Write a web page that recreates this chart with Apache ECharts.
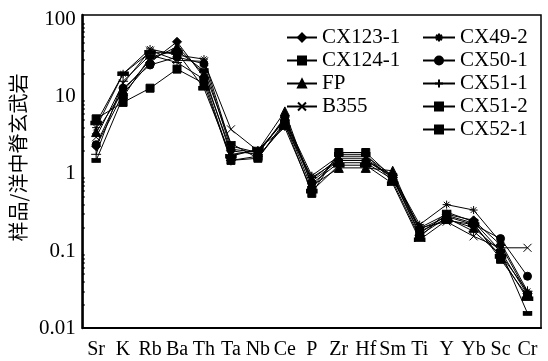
<!DOCTYPE html>
<html>
<head>
<meta charset="utf-8">
<script src="https://cdn.jsdelivr.net/npm/echarts@6/dist/echarts.min.js"></script>
<style>
  html, body { margin: 0; padding: 0; background: #fff; }
  #chart { width: 548px; height: 361px; }
</style>
</head>
<body>
<div id="chart"></div>
<script>
// Elements on the x axis (MORB-normalised spider diagram)
const elements = ['Sr', 'K', 'Rb', 'Ba', 'Th', 'Ta', 'Nb', 'Ce', 'P', 'Zr', 'Hf', 'Sm', 'Ti', 'Y', 'Yb', 'Sc', 'Cr'];

// Sample / MORB ratios
const cx123_1 = [2.3, 11, 28, 52, 18, 2.0, 1.8, 5.5, 0.80, 1.5, 1.5, 0.95, 0.20, 0.30, 0.25, 0.12, 0.028];
const cx124_1 = [5.2, 8.5, 13, 23, 15, 1.5, 1.6, 4.5, 0.56, 1.9, 1.9, 0.90, 0.17, 0.29, 0.23, 0.078, 0.026];
const fp      = [3.5, 12, 30, 45, 20, 1.8, 2.0, 6.5, 0.70, 1.2, 1.2, 1.10, 0.18, 0.26, 0.20, 0.10, 0.027];
const b355    = [3.0, 15, 40, 30, 29, 3.8, 2.0, 5.0, 0.85, 1.6, 1.6, 0.90, 0.20, 0.24, 0.155, 0.11, 0.11];
const cx49_2  = [4.0, 20, 42, 35, 31, 2.3, 1.9, 5.2, 0.95, 1.7, 1.7, 0.95, 0.22, 0.40, 0.34, 0.13, 0.030];
const cx50_1  = [2.4, 13, 26, 33, 27, 2.1, 1.9, 5.0, 0.75, 1.4, 1.4, 0.85, 0.19, 0.28, 0.22, 0.145, 0.047];
const cx51_1  = [1.8, 16, 35, 28, 17, 1.5, 1.7, 4.2, 0.90, 1.5, 1.5, 0.90, 0.16, 0.27, 0.18, 0.09, 0.030];
const cx51_2  = [1.5, 10, 33, 40, 22, 2.5, 1.6, 4.8, 0.65, 1.8, 1.8, 0.80, 0.15, 0.32, 0.24, 0.10, 0.0155];
const cx52_1  = [4.6, 20, 38, 38, 13, 1.7, 2.1, 4.0, 0.60, 1.3, 1.3, 0.75, 0.14, 0.25, 0.22, 0.085, 0.024];

// y-axis tick labels (log scale, one per decade)
const yTicks = ['0.01', '0.1', '1', '10', '100'];

const serif = '"Liberation Serif", "Times New Roman", serif';

const crossPath = 'path://M0,0L10,10M10,0L0,10';
const starPath = 'path://M5,0L5,10M0,5L10,5M1.5,1.5L8.5,8.5M8.5,1.5L1.5,8.5';
const plusPath = 'path://M0,5L10,5M5,0L5,10';

const sampleDefs = [
  { name: 'CX123-1', data: cx123_1, symbol: 'diamond', size: 9 },
  { name: 'CX124-1', data: cx124_1, symbol: 'rect', size: 8 },
  { name: 'FP', data: fp, symbol: 'triangle', size: 9 },
  { name: 'B355', data: b355, symbol: crossPath, size: 8 },
  { name: 'CX49-2', data: cx49_2, symbol: starPath, size: 8 },
  { name: 'CX50-1', data: cx50_1, symbol: 'circle', size: 8 },
  { name: 'CX51-1', data: cx51_1, symbol: plusPath, size: 10 },
  { name: 'CX51-2', data: cx51_2, symbol: 'rect', size: [8, 4] },
  { name: 'CX52-1', data: cx52_1, symbol: 'rect', size: [10, 4] }
];

const series = sampleDefs.map(d => ({
  name: d.name,
  type: 'line',
  data: d.data,
  symbol: d.symbol,
  symbolSize: d.size,
  showAllSymbol: true,
  lineStyle: { color: '#000', width: 1 },
  itemStyle: { color: '#000', borderColor: '#000', borderWidth: 1 },
  emphasis: { disabled: true },
  animation: false
}));

const legendText = { fontFamily: serif, fontSize: 21, color: '#000', lineHeight: 20 };
const legendCommon = {
  orient: 'vertical', top: 22,
  itemHeight: 10, itemGap: 2,
  lineStyle: { width: 2 },
  textStyle: legendText, inactiveColor: '#000', selectedMode: false
};

const chart = echarts.init(document.getElementById('chart'), null, { renderer: 'canvas' });
chart.setOption({
  backgroundColor: '#fff',
  animation: false,
  grid: {
    left: 80, right: 7, top: 15, bottom: 33,
    show: true, borderColor: '#000', borderWidth: 1.5, backgroundColor: 'transparent'
  },
  legend: [
    Object.assign({ data: ['CX123-1', 'CX124-1', 'FP', 'B355'], left: 281, itemWidth: 30 }, legendCommon),
    Object.assign({ data: ['CX49-2', 'CX50-1', 'CX51-1', 'CX51-2', 'CX52-1'], left: 417, itemWidth: 32 }, legendCommon)
  ],
  xAxis: {
    type: 'category',
    data: elements,
    boundaryGap: true,
    axisLine: { lineStyle: { color: '#000', width: 2 } },
    axisTick: { alignWithLabel: true, inside: true, length: 3, lineStyle: { color: '#000', width: 2 } },
    axisLabel: { fontFamily: serif, fontSize: 20, color: '#000', margin: 12, interval: 0 },
    splitLine: { show: false }
  },
  yAxis: {
    type: 'log',
    logBase: 10,
    min: 0.01,
    max: 116,
    name: '样品/洋中脊玄武岩',
    nameLocation: 'middle',
    nameGap: 48,
    nameTextStyle: { fontFamily: '"Noto Sans CJK SC", sans-serif', fontSize: 20, color: '#000', padding: [0, 0, 0, 28] },
    axisLine: { show: true, lineStyle: { color: '#000', width: 2.5 } },
    axisTick: { inside: true, length: 4, lineStyle: { color: '#000', width: 1.5 } },
    minorTick: { show: true, splitNumber: 9, length: 2, lineStyle: { color: '#000', width: 1.5 } },
    axisLabel: {
      fontFamily: serif, fontSize: 21, color: '#000', margin: 7,
      formatter: v => {
        const e = Math.log10(v);
        const k = Math.round(e);
        if (Math.abs(e - k) > 1e-6) return '';
        const label = yTicks[k + 2];
        return label !== undefined ? label : '';
      }
    },
    splitLine: { show: false }
  },
  series: series
});
</script>
</body>
</html>
